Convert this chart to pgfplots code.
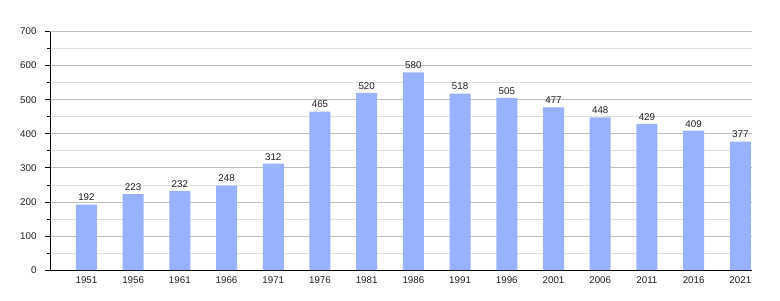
\documentclass[border=0pt]{standalone}
\usepackage{fontspec}
\setmainfont{Liberation Sans}
\usepackage{pgfplots}
\pgfplotsset{compat=1.18}
\definecolor{barblue}{RGB}{153,178,255}
\definecolor{txt}{RGB}{30,30,30}
\begin{document}
\begin{tikzpicture}[x=1bp,y=1bp]
\useasboundingbox (-50,-30) rectangle (730,270);
\begin{axis}[
  at={(0,0)}, anchor=south west,
  scale only axis, width=702bp, height=238.5bp,
  xmin=-0.78, xmax=14.25, ymin=0, ymax=700,
  axis lines*=left,
  axis line style={black, line width=0.8pt},
  ytick={0,100,...,700}, minor ytick={50,150,...,650},
  ymajorgrids, yminorgrids,
  major grid style={color=black!25, line width=0.6pt},
  minor grid style={color=black!12, line width=0.6pt},
  xtick={0,...,14},
  xticklabels={1951,1956,1961,1966,1971,1976,1981,1986,1991,1996,2001,2006,2011,2016,2021},
  x tick style={draw=none},
  y tick style={black, line width=0.6pt},
  tick align=outside,
  major tick length=5bp, minor tick length=2.5bp,
  tick label style={font=\fontsize{9.8}{11}\selectfont, text=txt},
  yticklabel style={xshift=-5bp},
  xticklabel style={yshift=2bp},
  /pgf/number format/assume math mode=true,
  ybar, bar width=21bp,
  nodes near coords,
  nodes near coords style={font=\fontsize{9.8}{11}\selectfont, text=txt, /pgf/number format/assume math mode=true},
]
\addplot[fill=barblue, draw=none] coordinates {
(0,192) (1,223) (2,232) (3,248) (4,312) (5,465) (6,520) (7,580)
(8,518) (9,505) (10,477) (11,448) (12,429) (13,409) (14,377)};
\end{axis}
\end{tikzpicture}
\end{document}
